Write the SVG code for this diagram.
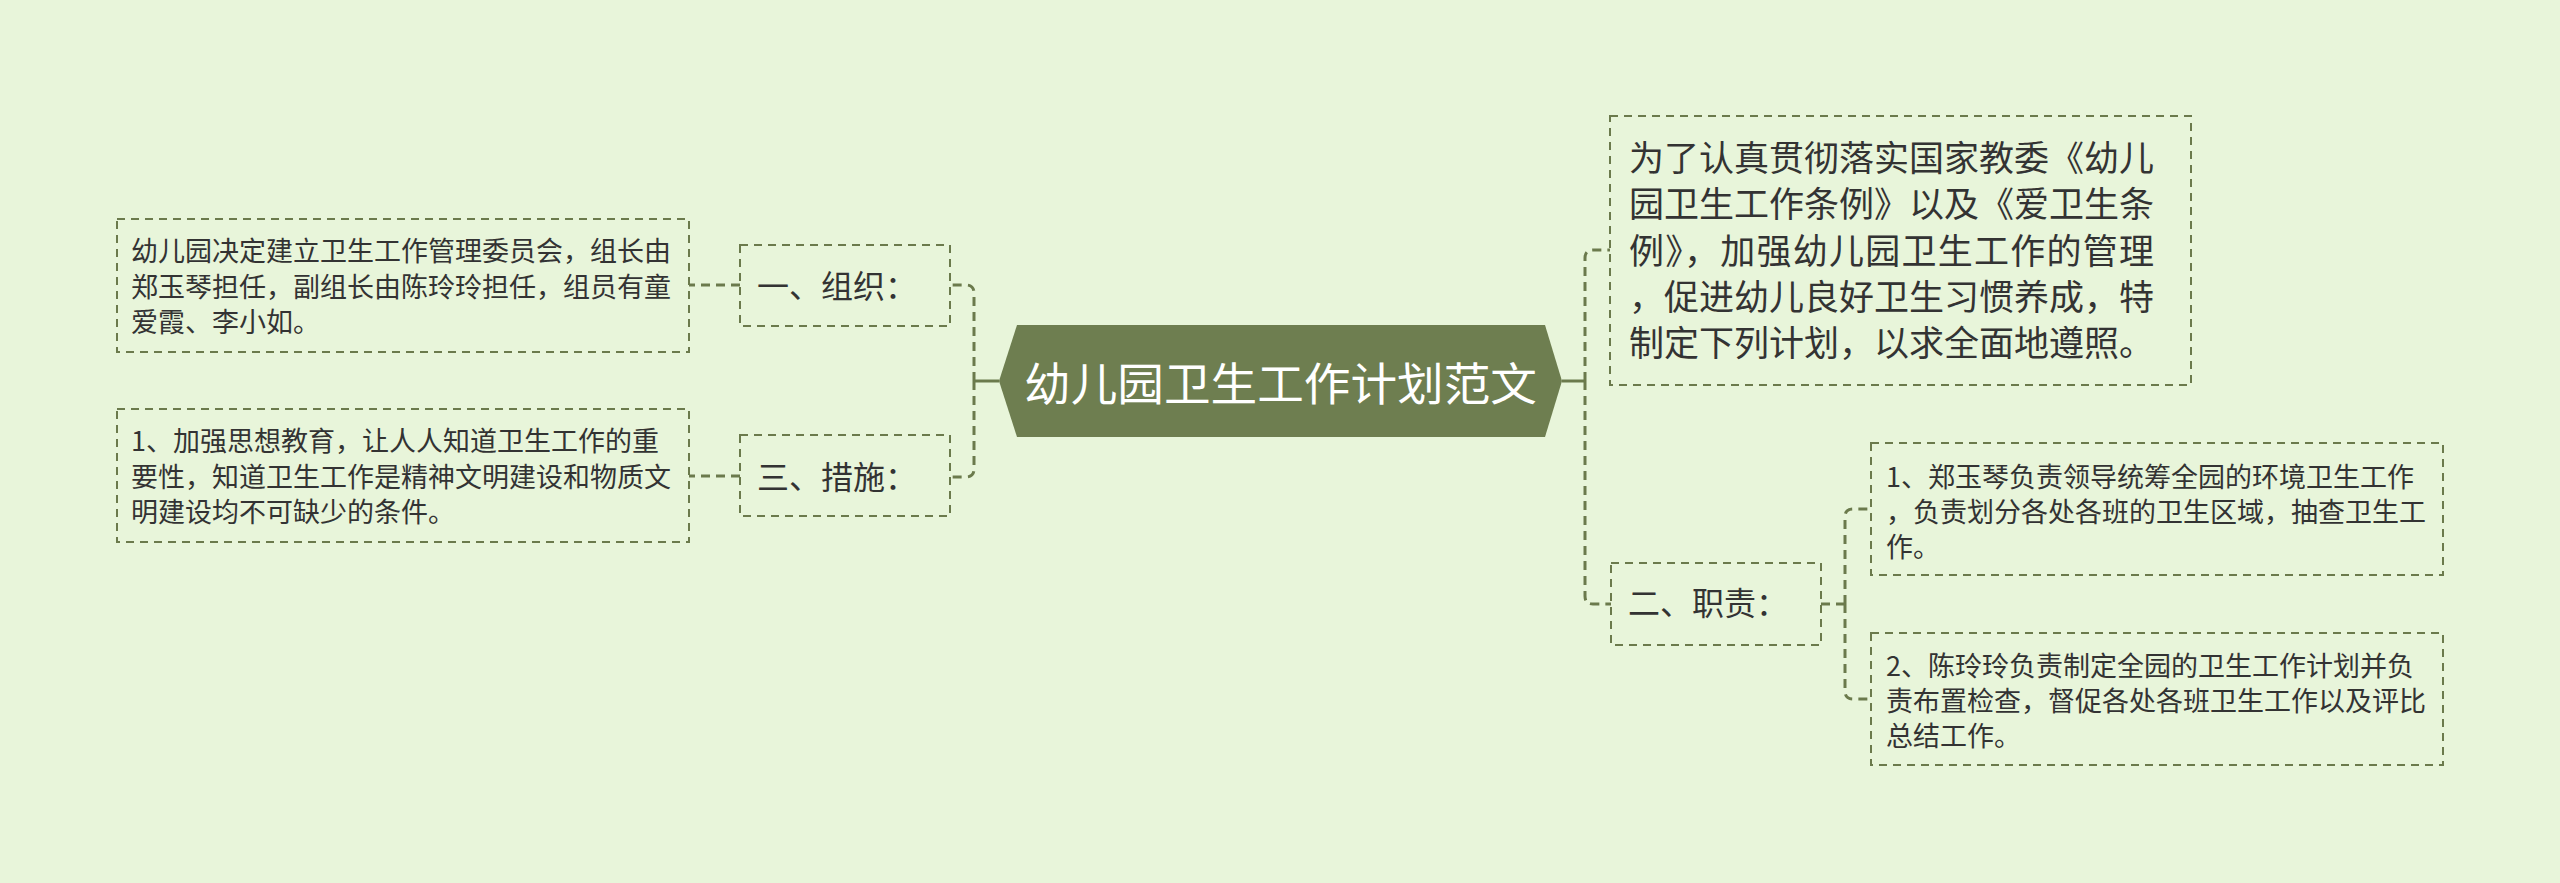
<svg xmlns="http://www.w3.org/2000/svg" width="2560" height="883" viewBox="0 0 2560 883">
<defs>
<style>
.bg{fill:#e8f5da}
.box{fill:none;stroke:#6b7a4c;stroke-width:2;stroke-dasharray:8 6}
.con{fill:none;stroke:#6b7a4c;stroke-width:3;stroke-dasharray:9 6}
.solid{fill:none;stroke:#6b7a4c;stroke-width:3}
.t{font-family:"Noto Sans CJK SC","Noto Sans",sans-serif;fill:#333333}
.s{font-size:27px}
.m{font-size:32px}
.l{font-size:35px}
.c{font-family:"Noto Sans CJK SC","Noto Sans",sans-serif;font-size:45px;fill:#ffffff}
</style>
</defs>
<rect class="bg" x="0" y="0" width="2560" height="883"/>
<g id="connectors">
<path class="solid" d="M999,381 H974"/>
<path class="con" d="M974,381 V293 Q974,285 966,285 H950"/>
<path class="con" d="M974,381 V469 Q974,477 966,477 H950"/>
<path class="con" d="M740,285 H689"/>
<path class="con" d="M740,476 H689"/>
<path class="solid" d="M1562,381 H1585"/>
<path class="con" d="M1585,381 V258 Q1585,250 1593,250 H1610"/>
<path class="con" d="M1585,381 V596 Q1585,604 1593,604 H1611"/>
<path class="con" d="M1821,604 H1845"/>
<path class="con" d="M1845,604 V517 Q1845,509 1853,509 H1871"/>
<path class="con" d="M1845,604 V691 Q1845,699 1853,699 H1871"/>
</g>
<g id="center">
<polygon points="999,381 1017,325 1545,325 1562,381 1545,437 1017,437" fill="#6e7e50"/>
<text class="c" x="1024" y="401" textLength="513" lengthAdjust="spacingAndGlyphs">幼儿园卫生工作计划范文</text>
</g>
<g id="node-zuzhi">
<rect class="box" x="740" y="245" width="210" height="81"/>
<text class="t m" x="757" y="298">一、组织：</text>
</g>
<g id="node-zuzhi-detail">
<rect class="box" x="117" y="219" width="572" height="133"/>
<text class="t s" x="131" y="261">幼儿园决定建立卫生工作管理委员会，组长由</text>
<text class="t s" x="131" y="296.5">郑玉琴担任，副组长由陈玲玲担任，组员有童</text>
<text class="t s" x="131" y="331.5">爱霞、李小如。</text>
</g>
<g id="node-cuoshi">
<rect class="box" x="740" y="435" width="210" height="81"/>
<text class="t m" x="757" y="489">三、措施：</text>
</g>
<g id="node-cuoshi-detail">
<rect class="box" x="117" y="409" width="572" height="133"/>
<text class="t s" x="131" y="451">1、加强思想教育，让人人知道卫生工作的重</text>
<text class="t s" x="131" y="486.5">要性，知道卫生工作是精神文明建设和物质文</text>
<text class="t s" x="131" y="521.5">明建设均不可缺少的条件。</text>
</g>
<g id="node-intro">
<rect class="box" x="1610" y="116" width="581" height="269"/>
<text class="t l" x="1629" y="171">为了认真贯彻落实国家教委《幼儿</text>
<text class="t l" x="1629" y="217">园卫生工作条例》以及《爱卫生条</text>
<text class="t l" x="1629" y="264" textLength="525" lengthAdjust="spacing">例》，加强幼儿园卫生工作的管理</text>
<text class="t l" x="1629" y="310">，促进幼儿良好卫生习惯养成，特</text>
<text class="t l" x="1629" y="356">制定下列计划，以求全面地遵照。</text>
</g>
<g id="node-zhize">
<rect class="box" x="1611" y="563" width="210" height="82"/>
<text class="t m" x="1628" y="615">二、职责：</text>
</g>
<g id="node-zhize-1">
<rect class="box" x="1871" y="443" width="572" height="132"/>
<text class="t s" x="1886" y="487">1、郑玉琴负责领导统筹全园的环境卫生工作</text>
<text class="t s" x="1886" y="522">，负责划分各处各班的卫生区域，抽查卫生工</text>
<text class="t s" x="1886" y="557">作。</text>
</g>
<g id="node-zhize-2">
<rect class="box" x="1871" y="633" width="572" height="132"/>
<text class="t s" x="1886" y="676">2、陈玲玲负责制定全园的卫生工作计划并负</text>
<text class="t s" x="1886" y="711">责布置检查，督促各处各班卫生工作以及评比</text>
<text class="t s" x="1886" y="746">总结工作。</text>
</g>
</svg>
